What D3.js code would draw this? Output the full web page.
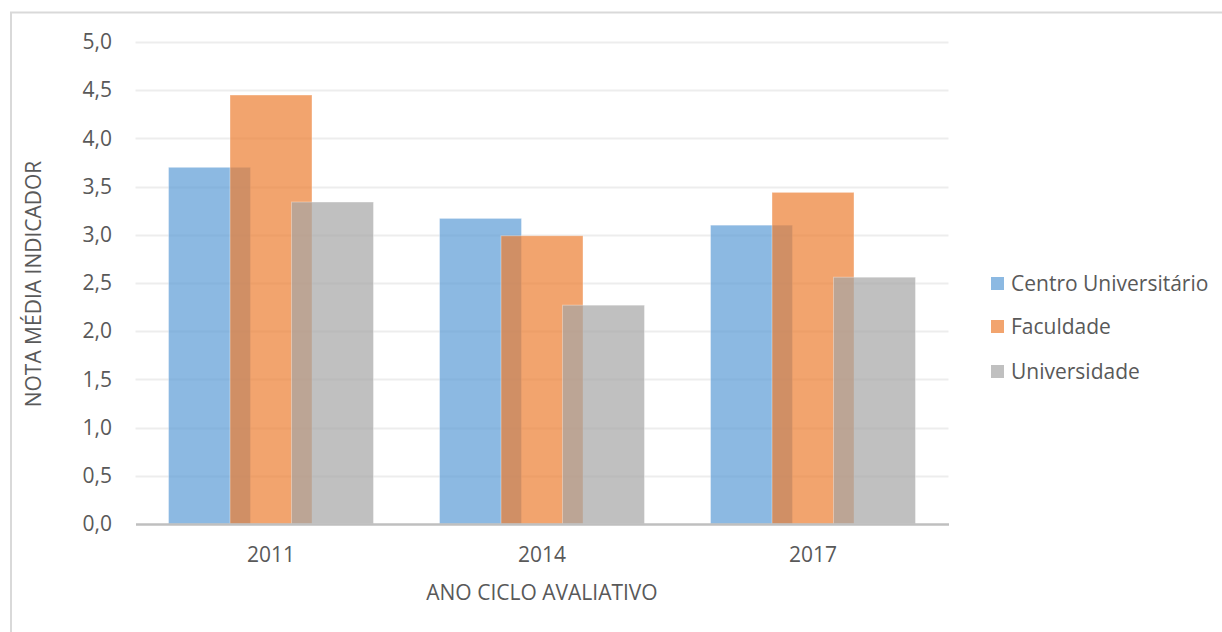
<!DOCTYPE html>
<html>
<head>
<meta charset="utf-8">
<script src="https://cdn.jsdelivr.net/npm/d3@7"></script>
<style>
  html, body { margin: 0; padding: 0; background: #fff; }
  svg { display: block; }
  text { font-family: "Open Sans", "Noto Sans", sans-serif; fill: #595959; }
</style>
</head>
<body>
<svg id="chart" width="1222" height="632"></svg>
<script>
// Average indicator score by evaluation cycle and institution type
const years = ["2011", "2014", "2017"];
const seriesNames = ["Centro Universitário", "Faculdade", "Universidade"];
const centroUniversitario = [3.70, 3.17, 3.10];
const faculdade = [4.45, 2.99, 3.44];
const universidade = [3.34, 2.27, 2.56];
const seriesValues = [centroUniversitario, faculdade, universidade];
const yTicks = [0, 0.5, 1, 1.5, 2, 2.5, 3, 3.5, 4, 4.5, 5];
const colors = ["#5B9BD5", "#ED7D31", "#A5A5A5"];

const svg = d3.select("#chart");

// outer frame (top and left edges only fall inside the view)
svg.append("rect")
  .attr("x", 11).attr("y", 12.5)
  .attr("width", 1300).attr("height", 700)
  .attr("fill", "#fff")
  .attr("stroke", "#D9D9D9")
  .attr("stroke-width", 2);

const plot = { left: 135.5, right: 948.5, top: 42, bottom: 524 };

const x = d3.scaleBand()
  .domain(years)
  .range([plot.left, plot.right])
  .paddingInner(0).paddingOuter(0);

const y = d3.scaleLinear()
  .domain([0, 5])
  .range([plot.bottom, plot.top]);

// bar geometry: bars overlap each other by a quarter of their width
const barW = x.bandwidth() * 0.3025;
const step = barW * 0.75;
const groupW = barW + step * (seriesNames.length - 1);

// gridlines
svg.append("g")
  .selectAll("line")
  .data(yTicks.filter(d => d > 0))
  .join("line")
  .attr("x1", plot.left).attr("x2", plot.right)
  .attr("y1", d => Math.round(y(d)) + 0.5)
  .attr("y2", d => Math.round(y(d)) + 0.5)
  .attr("stroke", "#EDEDED")
  .attr("stroke-width", 2);

// y axis labels
const yAxis = d3.axisLeft(y)
  .tickValues(yTicks)
  .tickFormat(d => d3.format(".1f")(d).replace(".", ","))
  .tickSize(0)
  .tickPadding(0);
const gy = svg.append("g")
  .attr("transform", `translate(112,0)`)
  .call(yAxis);
gy.select(".domain").remove();
gy.selectAll("text")
  .attr("font-size", 21)
  .attr("fill", "#595959")
  .style("font-family", '"Open Sans", sans-serif');

// bars
seriesNames.forEach((name, si) => {
  svg.append("g")
    .selectAll("rect")
    .data(years.map((yr, i) => ({ yr, v: seriesValues[si][i] })))
    .join("rect")
    .attr("x", d => x(d.yr) + (x.bandwidth() - groupW) / 2 + si * step)
    .attr("y", d => y(d.v))
    .attr("width", barW)
    .attr("height", d => y(0) - y(d.v))
    .attr("fill", colors[si])
    .attr("fill-opacity", 0.7)
    .attr("stroke", "#fff")
    .attr("stroke-opacity", 0.35)
    .attr("stroke-width", 1);
});

// x axis baseline and labels
const xAxis = d3.axisBottom(x).tickSize(0).tickPadding(0);
const gx = svg.append("g")
  .attr("transform", `translate(0,${plot.bottom})`)
  .call(xAxis);
gx.select(".domain")
  .attr("stroke", "#BFBFBF")
  .attr("stroke-width", 2.5);
gx.selectAll("text")
  .attr("y", 38)
  .attr("dy", 0)
  .attr("font-size", 21)
  .attr("fill", "#595959")
  .style("font-family", '"Open Sans", sans-serif');

// axis titles
svg.append("text")
  .attr("x", (plot.left + plot.right) / 2)
  .attr("y", 600)
  .attr("text-anchor", "middle")
  .attr("font-size", 21)
  .text("ANO CICLO AVALIATIVO");

svg.append("text")
  .attr("transform", `translate(41,${(plot.top + plot.bottom) / 2 + 1}) rotate(-90)`)
  .attr("text-anchor", "middle")
  .attr("font-size", 21)
  .text("NOTA MÉDIA INDICADOR");

// legend
const legend = svg.append("g");
const legendY = [283, 326, 371];
seriesNames.forEach((name, i) => {
  const g = legend.append("g").attr("transform", `translate(991,${legendY[i]})`);
  g.append("rect")
    .attr("x", 0).attr("y", -6)
    .attr("width", 13).attr("height", 13)
    .attr("fill", colors[i])
    .attr("fill-opacity", 0.7);
  g.append("text")
    .attr("x", 20).attr("y", 7.5)
    .attr("font-size", 21)
    .text(name);
});
</script>
</body>
</html>
